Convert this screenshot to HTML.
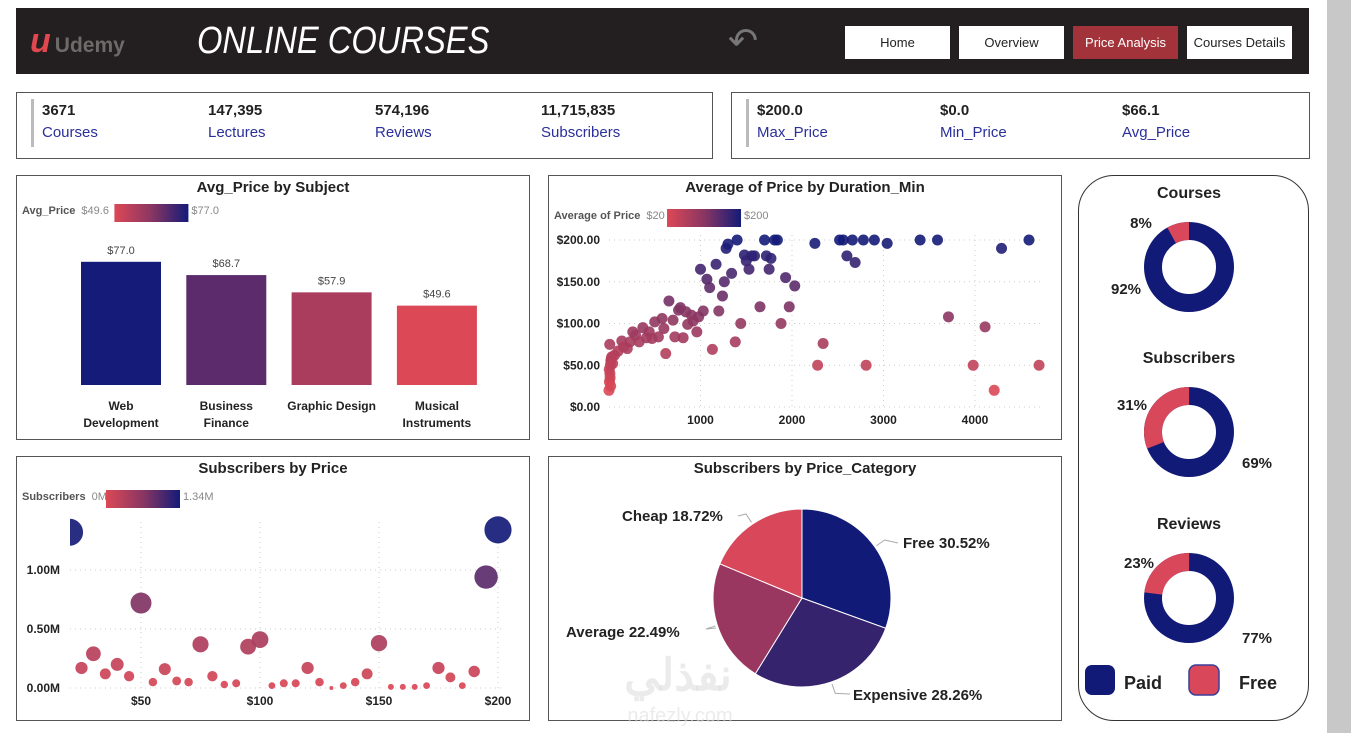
<!DOCTYPE html>
<html><head><meta charset="utf-8">
<style>
body{margin:0;width:1351px;height:733px;background:#fff;position:relative;overflow:hidden;font-family:"Liberation Sans",sans-serif;}
.abs{position:absolute;}
.panel{position:absolute;border:1px solid #555;background:#fff;box-sizing:border-box;}
.btn{position:absolute;top:26px;width:105px;height:33px;background:#fff;color:#222;font-size:13px;text-align:center;line-height:33px;}
.kv{position:absolute;font-size:15px;font-weight:bold;color:#222;}
.kl{position:absolute;font-size:15px;color:#2a2f9a;}
svg text{font-family:"Liberation Sans",sans-serif;}
</style></head><body>
<div class="abs" style="left:1327px;top:0;width:24px;height:733px;background:#c8c8c8"></div>
<div class="abs" style="left:16px;top:8px;width:1293px;height:66px;background:#231f20">
  <div class="abs" style="left:14px;top:14px;font-size:34px;font-weight:bold;font-style:italic;color:#e0474f">u<span style="font-size:21px;font-style:normal;color:#6d6a6a;margin-left:4px">Udemy</span></div>
  <div class="abs" style="left:181px;top:12px;font-size:38px;font-style:italic;color:#fff;transform:scaleX(0.86);transform-origin:left">ONLINE COURSES</div>
  <div class="abs" style="left:712px;top:12px;font-size:36px;color:#777">↶</div>
</div>
<div class="btn" style="left:845px">Home</div>
<div class="btn" style="left:959px">Overview</div>
<div class="btn" style="left:1073px;background:#a3333a;color:#fff">Price Analysis</div>
<div class="btn" style="left:1187px">Courses Details</div>

<div class="panel" style="left:16px;top:92px;width:697px;height:67px">
  <div class="abs" style="left:14px;top:6px;width:3px;height:48px;background:#bbb"></div>
  <div class="kv" style="left:25px;top:9px">3671</div><div class="kl" style="left:25px;top:31px">Courses</div>
  <div class="kv" style="left:191px;top:9px">147,395</div><div class="kl" style="left:191px;top:31px">Lectures</div>
  <div class="kv" style="left:358px;top:9px">574,196</div><div class="kl" style="left:358px;top:31px">Reviews</div>
  <div class="kv" style="left:524px;top:9px">11,715,835</div><div class="kl" style="left:524px;top:31px">Subscribers</div>
</div>
<div class="panel" style="left:731px;top:92px;width:579px;height:67px">
  <div class="abs" style="left:14px;top:6px;width:3px;height:48px;background:#bbb"></div>
  <div class="kv" style="left:25px;top:9px">$200.0</div><div class="kl" style="left:25px;top:31px">Max_Price</div>
  <div class="kv" style="left:208px;top:9px">$0.0</div><div class="kl" style="left:208px;top:31px">Min_Price</div>
  <div class="kv" style="left:390px;top:9px">$66.1</div><div class="kl" style="left:390px;top:31px">Avg_Price</div>
</div>

<div class="panel" style="left:16px;top:175px;width:514px;height:265px"></div>
<div class="panel" style="left:548px;top:175px;width:514px;height:265px"></div>
<div class="panel" style="left:16px;top:456px;width:514px;height:265px"></div>
<div class="panel" style="left:548px;top:456px;width:514px;height:265px"></div>
<div class="panel" style="left:1078px;top:175px;width:231px;height:546px;border-radius:36px;border-color:#333"></div>

<svg id="svg" class="abs" style="left:0;top:0" width="1351" height="733">
<defs><linearGradient id="lg" x1="0" x2="1"><stop offset="0" stop-color="#dc4856"/><stop offset="0.5" stop-color="#8a3662"/><stop offset="1" stop-color="#141b78"/></linearGradient></defs>
</svg>

<script>
// Bar chart data
const subjects=["Web Development","Business Finance","Graphic Design","Musical Instruments"];
const avgPrice=[77.0,68.7,57.9,49.6];
// Scatter duration data
const durations=[0,5,10,15,20,8,12,3,18,25,30,40,60,100,140,160,200,230,260,290,330,370,410,440,470,500,540,580,600,620,655,700,720,760,780,810,840,860,900,920,960,980,1030,1000,1070,1100,1130,1170,1200,1240,1260,1280,1300,1340,1380,1400,1440,1480,1500,1530,1560,1590,1650,1700,1720,1750,1770,1810,1840,1880,1930,1970,2030,2250,2280,2340,2520,2560,2600,2660,2690,2780,2810,2900,3040,3400,3590,3710,3980,4110,4210,4290,4590,4700];
const durPrices=[20,30,40,50,55,75,35,45,25,58,60,52,62,67,79,72,70,78,90,86,78,95,83,90,82,102,84,106,94,64,127,104,84,116,119,83,114,99,110,103,90,108,115,165,153,143,69,171,115,133,150,190,195,160,78,200,100,182,175,165,181,181,120,200,181,165,178,200,200,100,155,120,145,196,50,76,200,200,181,200,173,200,50,200,196,200,200,108,50,96,20,190,200,50];
// Subscribers by price
const prices=[20,25,30,35,40,45,50,55,60,65,70,75,80,85,90,95,100,105,110,115,120,125,130,135,140,145,150,155,160,165,170,175,180,185,190,195,200];
const subsM=[1.32,0.17,0.29,0.12,0.20,0.10,0.72,0.05,0.16,0.06,0.05,0.37,0.10,0.03,0.04,0.35,0.41,0.02,0.04,0.04,0.17,0.05,0.00,0.02,0.05,0.12,0.38,0.01,0.01,0.01,0.02,0.17,0.09,0.02,0.14,0.94,1.34];
// Pie
const cats=["Free","Expensive","Average","Cheap"];
const catPct=[30.52,28.26,22.49,18.72];
// Donuts
const donutTitles=["Courses","Subscribers","Reviews"];
const paidPct=[92,69,77];
const freePct=[8,31,23];

const svg=document.getElementById('svg');
const NS='http://www.w3.org/2000/svg';
function mk(tag,attrs,parent){const e=document.createElementNS(NS,tag);for(const k in attrs)e.setAttribute(k,attrs[k]);(parent||svg).appendChild(e);return e;}
function txt(x,y,s,size,opts,parent){const o=Object.assign({x:x,y:y,'font-size':size,fill:'#222'},opts||{});const t=mk('text',o,parent);t.textContent=s;return t;}
function hex(c){return [parseInt(c.substr(1,2),16),parseInt(c.substr(3,2),16),parseInt(c.substr(5,2),16)];}
const c0=hex('#dc4856'),c1=hex('#8a3662'),c2=hex('#141b78');
function col(t){t=Math.max(0,Math.min(1,t));let a,b,u;if(t<0.5){a=c0;b=c1;u=t*2;}else{a=c1;b=c2;u=(t-0.5)*2;}return 'rgb('+a.map((v,i)=>Math.round(v+(b[i]-v)*u)).join(',')+')';}
function legend(x,y,label,lo,hi,name){
  const g=mk('g',{});
  const t=txt(x,y+4,label,11,{fill:'#555','font-weight':'bold'},g);
  const w=t.getComputedTextLength();
  txt(x+w+6,y+4,lo,11,{fill:'#888'},g);
  const lw=lo.length*6.2;
  mk('rect',{x:x+w+8+lw,y:y-6,width:74,height:18,fill:'url(#lg)'},g);
  txt(x+w+8+lw+77,y+4,hi,11,{fill:'#888'},g);
}

// Bar chart
txt(273,192,"Avg_Price by Subject",15,{'font-weight':'bold','text-anchor':'middle'});
legend(22,210,"Avg_Price","$49.6","$77.0","avg-price-legend");
const bx0=81,bstep=105.3,bw=80,base=385,ppx=1.6;
const mn=Math.min(...avgPrice),mx=Math.max(...avgPrice);
subjects.forEach((s,i)=>{
  const h=avgPrice[i]*ppx,x=bx0+i*bstep;
  const r=mk('rect',{x:x,y:base-h,width:bw,height:h,fill:col((avgPrice[i]-mn)/(mx-mn))});
  
  
  txt(x+bw/2,base-h-8,'$'+avgPrice[i].toFixed(1),11,{'text-anchor':'middle',fill:'#444'});
  const w=s.split(' ');
  if(s==="Graphic Design"){txt(x+bw/2,410,s,12,{'text-anchor':'middle','font-weight':'bold'});}
  else{txt(x+bw/2,410,w[0],12,{'text-anchor':'middle','font-weight':'bold'});txt(x+bw/2,427,w[1],12,{'text-anchor':'middle','font-weight':'bold'});}
});

// Scatter duration
txt(805,192,"Average of Price by Duration_Min",15,{'font-weight':'bold','text-anchor':'middle'});
legend(554,215,"Average of Price","$20","$200","price-legend");
const sx=d=>609+d*0.0915, sy=p=>407-p*0.835;
[0,50,100,150,200].forEach(v=>{mk('line',{x1:609,x2:1040,y1:sy(v),y2:sy(v),stroke:'#ccc','stroke-dasharray':'1 4'});txt(600,sy(v)+4,'$'+v.toFixed(2),12,{'text-anchor':'end','font-weight':'bold'});});
[1000,2000,3000,4000].forEach(v=>{mk('line',{x1:sx(v),x2:sx(v),y1:235,y2:407,stroke:'#ccc','stroke-dasharray':'1 4'});txt(sx(v),424,String(v),12,{'text-anchor':'middle','font-weight':'bold'});});
durations.forEach((d,i)=>{const c=mk('circle',{cx:Math.min(sx(d),1040),cy:sy(durPrices[i]),r:5.5,fill:col((durPrices[i]-20)/180),'fill-opacity':0.9});

});

// Subscribers by price
txt(273,473,"Subscribers by Price",15,{'font-weight':'bold','text-anchor':'middle'});
legend(22,496,"Subscribers","0M","1.34M","subscribers-legend");
const px=p=>141+(p-50)*2.38, py=m=>688-m*118;
[0,0.5,1].forEach(v=>{mk('line',{x1:70,x2:505,y1:py(v),y2:py(v),stroke:'#ccc','stroke-dasharray':'1 4'});txt(60,py(v)+4,v.toFixed(2)+'M',12,{'text-anchor':'end','font-weight':'bold'});});
[50,100,150,200].forEach(v=>{mk('line',{x1:px(v),x2:px(v),y1:522,y2:688,stroke:'#ccc','stroke-dasharray':'1 4'});txt(px(v),705,'$'+v,12,{'text-anchor':'middle','font-weight':'bold'});});
const cp=mk('clipPath',{id:'cp'});mk('rect',{x:70,y:515,width:450,height:200},cp);
const gg=mk('g',{'clip-path':'url(#cp)'});
prices.forEach((p,i)=>{const r=2+Math.sqrt(subsM[i])*10;const c=mk('circle',{cx:px(p),cy:py(subsM[i]),r:r,fill:col(subsM[i]/1.34),'fill-opacity':0.92},gg);

});

// Pie
txt(805,473,"Subscribers by Price_Category",15,{'font-weight':'bold','text-anchor':'middle'});
const pcx=802,pcy=598,pr=89;const pcol=['#121a78','#36236e','#9a3760','#d9475a'];
let a=0;const tot=catPct.reduce((s,v)=>s+v,0);
const lblPos=[[903,548,'start',898,543],[853,700,'start',850,694],[566,637,'start',716,628],[622,521,'start',738,516]];
catPct.forEach((v,i)=>{
  const a1=a+v/tot*2*Math.PI;
  const p0=[pcx+pr*Math.sin(a),pcy-pr*Math.cos(a)],p1=[pcx+pr*Math.sin(a1),pcy-pr*Math.cos(a1)];
  const pth=mk('path',{d:`M${pcx},${pcy}L${p0[0]},${p0[1]}A${pr},${pr} 0 ${a1-a>Math.PI?1:0} 1 ${p1[0]},${p1[1]}Z`,fill:pcol[i],stroke:'#fff','stroke-width':1});
  
  
  const mid=(a+a1)/2;const ex=pcx+(pr+2)*Math.sin(mid),ey=pcy-(pr+2)*Math.cos(mid);
  const ox=pcx+(pr+12)*Math.sin(mid),oy=pcy-(pr+12)*Math.cos(mid);
  const L=lblPos[i];
  mk('polyline',{points:`${ex},${ey} ${ox},${oy} ${L[3]},${L[4]}`,stroke:'#aaa',fill:'none'});
  txt(L[0],L[1],cats[i]+' '+v.toFixed(2)+'%',15,{'font-weight':'bold'});
  a=a1;
});

// Donuts
const dcy=[267,432,598];
donutTitles.forEach((t,i)=>{
  const cx=1189,cy=dcy[i],R=45,r=27;
  txt(cx,cy-69,t,16,{'font-weight':'bold','text-anchor':'middle'});
  const rr=(R+r)/2,sw=R-r,C=2*Math.PI*rr;
  const bg=mk('circle',{cx:cx,cy:cy,r:rr,fill:'none',stroke:'#121a78','stroke-width':sw});
  
  
  const fr=freePct[i]/(paidPct[i]+freePct[i]);
  const f=mk('circle',{cx:cx,cy:cy,r:rr,fill:'none',stroke:'#d9475a','stroke-width':sw,'stroke-dasharray':(fr*C)+' '+C,transform:`rotate(${-90-fr*360} ${cx} ${cy})`});
  
  
});
const dl=[[1141,228,'8%'],[1126,294,'92%'],[1132,410,'31%'],[1257,468,'69%'],[1139,568,'23%'],[1257,643,'77%']];
dl.forEach(d=>txt(d[0],d[1],d[2],15,{'font-weight':'bold','text-anchor':'middle'}));

// Paid/Free legend
const lg1=mk('rect',{x:1085,y:665,width:30,height:30,rx:7,fill:'#121a78'});


txt(1124,689,"Paid",18,{'font-weight':'bold'});
const lg2=mk('rect',{x:1189,y:665,width:30,height:30,rx:7,fill:'#d9475a',stroke:'#3a3f9a','stroke-width':1.5});


txt(1239,689,"Free",18,{'font-weight':'bold'});

// watermark
txt(678,690,"نفذلي",44,{'font-weight':'bold','text-anchor':'middle',fill:'#ddd','fill-opacity':0.6});
txt(680,722,"nafezly.com",20,{'text-anchor':'middle',fill:'#ddd','fill-opacity':0.6});
</script>
</body></html>
